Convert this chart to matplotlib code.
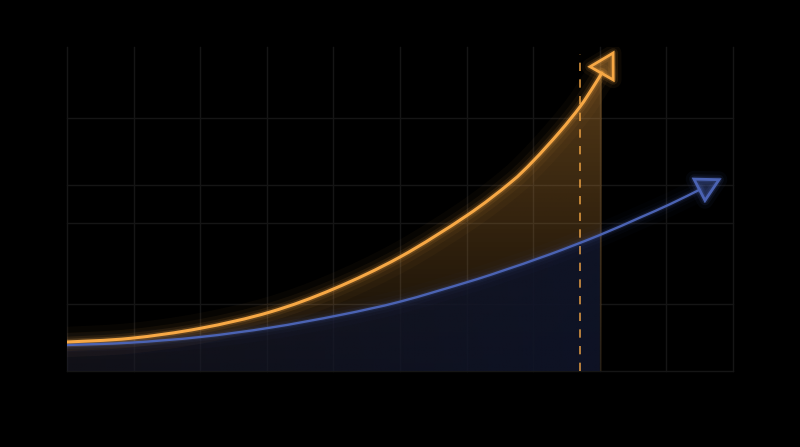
import matplotlib
matplotlib.use("Agg")
import matplotlib.pyplot as plt
import numpy as np
from matplotlib.patches import Polygon, PathPatch
from matplotlib.path import Path

# values, in grid cells (x: 0..10, y: 0..4.86)
orange_x = [0, 0.95, 2.0, 3.05, 4.0, 5.0, 6.0, 6.65, 7.0, 7.4, 7.7, 7.9, 8.03]
orange_y = [0.435, 0.49, 0.64, 0.885, 1.23, 1.71, 2.33, 2.82, 3.15, 3.59,
            3.96, 4.26, 4.47]
orange_tip = (8.2, 4.77)

blue_x = [0, 0.95, 2.0, 3.05, 4.1, 5.0, 6.0, 6.5, 7.25, 8.0, 8.6, 9.05, 9.5]
blue_y = [0.39, 0.425, 0.51, 0.65, 0.84, 1.04, 1.33, 1.49, 1.75, 2.04,
          2.30, 2.50, 2.72]
blue_tip = (9.79, 2.87)

grid_x = [0, 1, 2, 3, 4, 5, 6, 7, 8, 9, 10]
grid_y = [0, 1.0, 2.22, 2.79, 3.8]
marker_x = 7.7
fill_end = 8.0

ORANGE = "#f7a845"
BLUE = "#4b63b3"
BG = "#000000"


def smooth_path(x, y):
    """Bezier path through the points (Catmull-Rom control points)."""
    pts = np.column_stack([x, y])
    verts = [pts[0]]
    codes = [Path.MOVETO]
    for i in range(len(pts) - 1):
        p0 = pts[i - 1] if i > 0 else pts[i]
        p1, p2 = pts[i], pts[i + 1]
        p3 = pts[i + 2] if i + 2 < len(pts) else pts[i + 1]
        verts += [p1 + (p2 - p0) / 6, p2 - (p3 - p1) / 6, p2]
        codes += [Path.CURVE4] * 3
    return verts, codes


def glow_line(ax, x, y, color, lw, glow=1.0):
    """Draw a smooth line with a soft halo around it."""
    verts, codes = smooth_path(x, y)
    path = Path(verts, codes)
    for w, a in ((lw * 10, 0.03), (lw * 6, 0.05), (lw * 3.5, 0.09),
                 (lw * 2, 0.18)):
        ax.add_patch(PathPatch(path, fc="none", ec=color, lw=w, alpha=a * glow,
                               capstyle="round", zorder=4))
    ax.add_patch(PathPatch(path, fc="none", ec=color, lw=lw,
                           capstyle="round", zorder=5))


def arrow_head(ax, start, tip, color, length, half_w):
    """Triangle head pointing from start to tip."""
    d = np.array(tip) - np.array(start)
    d = d / np.hypot(*d)
    p = np.array([-d[1], d[0]])
    base = np.array(tip) - d * length
    pts = [tip, base + p * half_w, base - p * half_w]
    for w, a in ((12, 0.05), (7, 0.1), (4, 0.2)):
        ax.add_patch(Polygon(pts, closed=True, fill=False, ec=color, lw=w,
                             alpha=a, joinstyle="round", zorder=5))
    ax.add_patch(Polygon(pts, closed=True, fc=color, alpha=0.35, ec="none",
                         zorder=6))
    ax.add_patch(Polygon(pts, closed=True, fill=False, ec=color, lw=2.0,
                         joinstyle="miter", zorder=6))


def gradient_fill(ax, x, y, color, alphas, z, horizontal=False):
    """Gradient under a smooth curve, clipped to the curve."""
    verts, codes = smooth_path(x, y)
    verts = [(x[0], 0)] + verts + [(x[-1], 0), (x[0], 0)]
    codes = [Path.MOVETO, Path.LINETO] + codes[1:] + [Path.LINETO,
                                                      Path.CLOSEPOLY]
    patch = PathPatch(Path(verts, codes), fc="none", ec="none")
    ax.add_patch(patch)
    rgb = np.array(matplotlib.colors.to_rgb(color))
    n = 256
    ramp = np.linspace(alphas[0], alphas[1], n)
    img = np.zeros((n, n, 4))
    img[:, :, :3] = rgb
    img[:, :, 3] = ramp[None, :] if horizontal else ramp[:, None]
    im = ax.imshow(img, extent=(x[0], x[-1], 0, max(y)), origin="upper",
                   aspect="auto", zorder=z, interpolation="bilinear")
    im.set_clip_path(patch)


def main():
    fig = plt.figure(figsize=(8, 4.47), dpi=100, facecolor=BG)
    ax = fig.add_axes([67 / 800, 76 / 447, 666 / 800, 324 / 447])
    ax.set_facecolor(BG)
    ax.set_xlim(0, 10)
    ax.set_ylim(0, 4.86)
    ax.axis("off")

    for gx in grid_x:
        ax.axvline(gx, color="#151515", lw=1, zorder=1, clip_on=False)
    for gy in grid_y:
        ax.axhline(gy, color="#151515", lw=1, zorder=1, clip_on=False)

    gradient_fill(ax, orange_x, orange_y, ORANGE, (0.34, 0.08), 2)
    n_blue = blue_x.index(fill_end) + 1
    gradient_fill(ax, blue_x[:n_blue], blue_y[:n_blue], "#0e1326",
                  (0.55, 0.97), 2.5, horizontal=True)

    ax.plot([marker_x, marker_x], [0, 4.75], color=ORANGE, lw=1.2,
            ls=(0, (5, 5)), alpha=0.85, zorder=3)

    glow_line(ax, blue_x, blue_y, BLUE, 1.7, glow=0.8)
    glow_line(ax, orange_x, orange_y, ORANGE, 2.2)

    arrow_head(ax, (blue_x[-1], blue_y[-1]), blue_tip, BLUE, 0.33, 0.18)
    arrow_head(ax, (orange_x[-1], orange_y[-1]), orange_tip, ORANGE, 0.35, 0.2)

    fig.savefig("out.png", dpi=100, facecolor=BG)


if __name__ == "__main__":
    main()
